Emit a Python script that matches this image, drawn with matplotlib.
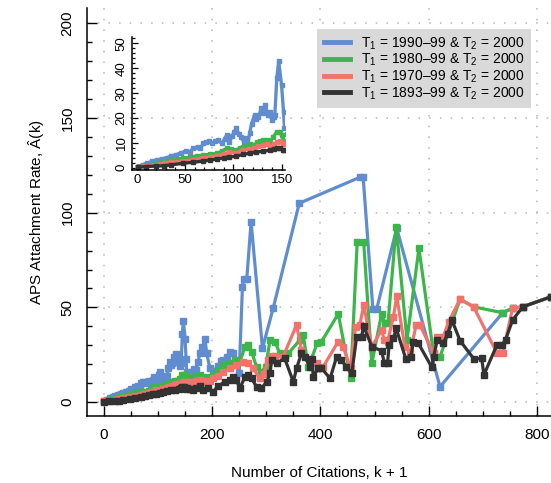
import matplotlib
matplotlib.use("Agg")
import matplotlib.pyplot as plt
from matplotlib.lines import Line2D
from matplotlib.ticker import MultipleLocator

plt.rcParams['font.family'] = ['Liberation Sans', 'DejaVu Sans']
plt.rcParams['mathtext.fontset'] = 'custom'
plt.rcParams['mathtext.rm'] = 'Liberation Sans'
plt.rcParams['mathtext.it'] = 'Liberation Sans:italic'

# ---------------- data ----------------
blue_k = [1, 6, 11, 16, 21, 26, 31, 36, 41, 46, 51, 55, 58, 63, 66, 69, 72, 75, 78, 81, 84, 88, 91, 93,
          96, 99, 101, 103, 106, 108, 111, 113, 115, 117, 119, 122, 124, 126, 129, 131, 133, 136, 138,
          140, 142, 143, 145, 147, 150, 152, 153, 159, 162, 166, 170, 174, 177, 182, 187, 190, 196, 203,
          210, 216, 220, 227, 233, 239, 245, 250, 256, 258, 264, 272, 293, 313, 361, 473, 479, 497, 504,
          541, 621, 737, 755, 774, 826]
blue_y = [0.5, 1.2, 1.9, 2.6, 3.1, 3.6, 4.0, 4.8, 5.3, 6.0, 6.8, 6.2, 7.8, 8.4, 7.9, 9.8, 10.5, 10.7, 9.8,
          10.6, 11.3, 9.8, 11.5, 13.1, 10.4, 12.8, 14.5, 15.8, 13.5, 12.2, 10.5, 11.8, 9.1, 14.0, 17.8, 21.2,
          19.5, 20.5, 23.9, 22.0, 25.2, 21.2, 22.5, 19.2, 20.5, 21.2, 35.9, 42.9, 33.2, 22.5, 16.0, 13.4, 16.0,
          17.5, 16.9, 21.0, 25.7, 29.2, 33.1, 25.7, 17.8, 16.0, 19.0, 21.5, 22.2, 23.9, 26.6, 25.7, 19.5, 15.5,
          60.6, 64.8, 64.8, 95.2, 28.4, 49.8, 105.0, 118.7, 118.7, 49.1, 49.1, 91.8, 8.1, 47.2, 49.5, 50.3, 55.6]

green_k = [1, 10, 20, 28, 36, 43, 48, 55, 62, 69, 76, 83, 88, 93, 98, 103, 107, 110, 114, 117, 121, 125,
           128, 131, 135, 138, 141, 145, 148, 150, 152, 156, 165, 172, 177, 184, 190, 196, 202, 210, 220,
           227, 233, 242, 251, 261, 267, 273, 282, 291, 299, 307, 316, 325, 334, 341, 362, 368, 378, 394,
           402, 433, 456, 468, 480, 495, 513, 519, 525, 540, 560, 582, 609, 621, 658, 683, 736, 755, 774, 826]
green_y = [0.3, 1.0, 1.8, 2.4, 3.0, 3.4, 3.8, 4.3, 4.7, 5.1, 5.4, 5.8, 6.6, 7.8, 7.4, 7.1, 8.0, 8.4, 8.8,
           9.4, 9.0, 10.2, 10.6, 11.1, 11.3, 10.4, 12.2, 14.5, 14.2, 13.1, 10.7, 13.4, 12.5, 13.8, 14.3, 13.2,
           12.5, 13.0, 14.3, 16.5, 19.5, 19.0, 20.4, 22.2, 21.3, 29.2, 30.1, 26.6, 18.6, 16.0, 18.6, 32.8, 31.9,
           25.7, 24.8, 25.7, 32.8, 35.4, 18.6, 31.0, 31.9, 46.5, 12.5, 84.4, 84.4, 20.4, 46.5, 41.9, 41.9, 92.6,
           32.8, 81.2, 25.7, 23.9, 54.3, 50.3, 47.2, 49.5, 50.3, 55.6]

red_k = [1, 10, 20, 28, 36, 48, 58, 69, 76, 83, 90, 96, 103, 110, 116, 121, 126, 131, 135, 138, 142, 145,
         148, 151, 156, 165, 172, 177, 184, 190, 196, 202, 211, 220, 233, 245, 257, 267, 276, 288, 295, 304,
         310, 316, 331, 356, 365, 381, 393, 405, 433, 442, 456, 465, 473, 480, 495, 513, 518, 524, 535, 541,
         556, 566, 577, 584, 609, 616, 627, 637, 658, 683, 726, 737, 755, 774, 826]
red_y = [0.3, 0.8, 1.3, 1.8, 2.2, 2.7, 3.3, 3.8, 4.3, 4.8, 5.5, 6.2, 6.0, 7.1, 7.4, 7.8, 8.6, 9.1, 9.4, 8.5,
         9.4, 10.2, 10.8, 9.4, 10.7, 10.7, 11.3, 11.6, 11.0, 10.7, 11.2, 12.5, 14.0, 16.0, 17.8, 19.5, 21.3,
         20.4, 17.8, 12.5, 15.0, 22.2, 24.3, 24.3, 23.9, 40.7, 27.5, 20.4, 20.4, 18.6, 31.9, 29.2, 17.8, 39.8,
         40.7, 51.2, 29.2, 38.0, 32.8, 31.9, 45.1, 56.0, 29.2, 26.6, 40.7, 40.7, 25.7, 34.5, 34.5, 42.4, 54.3,
         50.3, 26.0, 26.0, 49.5, 50.3, 55.6]

black_k = [1, 10, 20, 28, 36, 48, 58, 69, 76, 83, 90, 96, 103, 110, 117, 124, 131, 138, 142, 145, 148, 151,
           153, 159, 165, 171, 177, 184, 193, 202, 211, 224, 233, 239, 245, 251, 261, 267, 273, 282, 291, 301,
           307, 310, 319, 334, 350, 356, 365, 371, 381, 384, 387, 396, 402, 418, 430, 439, 448, 458, 467, 476,
           480, 495, 513, 518, 524, 527, 535, 540, 558, 567, 572, 581, 606, 609, 616, 627, 635, 643, 658, 684,
           698, 702, 726, 735, 742, 755, 774, 826]
black_y = [0.2, 0.5, 0.7, 0.8, 1.2, 1.8, 2.2, 2.7, 3.1, 3.5, 4.0, 4.4, 4.6, 5.4, 5.8, 6.4, 6.6, 7.1, 7.4, 8.0,
           7.8, 7.1, 7.2, 6.8, 6.3, 7.5, 8.5, 6.3, 7.2, 5.4, 8.5, 10.7, 11.6, 13.4, 11.6, 7.2, 13.4, 14.3, 12.5,
           8.1, 7.2, 10.7, 15.2, 22.2, 20.4, 23.1, 10.7, 17.8, 25.7, 23.9, 18.6, 22.6, 13.4, 17.8, 17.8, 12.5,
           23.9, 22.2, 18.6, 15.2, 34.5, 34.5, 40.1, 29.2, 27.1, 20.8, 20.4, 30.1, 33.7, 38.9, 22.6, 23.9, 31.9,
           31.0, 18.3, 23.9, 32.8, 31.0, 35.9, 43.3, 32.4, 22.6, 23.1, 14.3, 30.1, 30.1, 32.8, 43.3, 50.3, 55.6]

series_labels = [r"T$_1$ = 1990–99 & T$_2$ = 2000",
                 r"T$_1$ = 1980–99 & T$_2$ = 2000",
                 r"T$_1$ = 1970–99 & T$_2$ = 2000",
                 r"T$_1$ = 1893–99 & T$_2$ = 2000"]
colors = ['#5f8dcf', '#3cb54a', '#f2736b', '#333333']
series = [(blue_k, blue_y), (green_k, green_y), (red_k, red_y), (black_k, black_y)]

# ---------------- figure ----------------
fig = plt.figure(figsize=(5.51, 4.83), dpi=100)
ax = fig.add_axes([0.158, 0.139, 0.842, 0.844])

for (k, y), c in zip(series, colors):
    ax.plot(k, y, color=c, lw=2.3, marker='s', ms=3.8, mec=c, mfc=c, zorder=3,
            solid_joinstyle='round')

ax.set_xlim(-31, 826)
ax.set_ylim(-7.3, 208)
ax.xaxis.set_major_locator(MultipleLocator(200))
ax.xaxis.set_minor_locator(MultipleLocator(50))
ax.yaxis.set_major_locator(MultipleLocator(50))
ax.yaxis.set_minor_locator(MultipleLocator(10))
for s in ['top', 'right']:
    ax.spines[s].set_visible(False)
for s in ['left', 'bottom']:
    ax.spines[s].set_linewidth(1.1)
ax.tick_params(which='both', direction='in', width=1.0, labelsize=11)
ax.tick_params(which='major', length=7)
ax.tick_params(which='minor', length=3.5)
ax.tick_params(axis='x', pad=9)
ax.tick_params(axis='y', pad=9, labelrotation=90)
for lab in ax.get_yticklabels():
    lab.set_va('center')
ax.grid(True, which='major', color='#b5b5b5', lw=1.1, ls=(0, (1, 6)), zorder=0)

ax.set_xlabel("Number of Citations, k + 1", fontsize=11, labelpad=17)
ax.set_ylabel(r"APS Attachment Rate, $\hat{\mathrm{A}}$(k)", fontsize=11, labelpad=10)

handles = [Line2D([0], [0], color=c, lw=3.5) for c in colors]
leg = ax.legend(handles, series_labels, loc='upper right', bbox_to_anchor=(0.957, 0.949),
                borderaxespad=0, fontsize=10, frameon=True, fancybox=False,
                handlelength=1.9, labelspacing=0.02, borderpad=0.45, handletextpad=0.8)
leg.get_frame().set_facecolor('#d9d9d9')
leg.get_frame().set_edgecolor('none')
leg.get_frame().set_alpha(1)

# ---------------- inset ----------------
axi = fig.add_axes([0.239, 0.648, 0.278, 0.275])
axi.patch.set_alpha(0)
for (k, y), c in zip(series, colors):
    axi.plot(k, y, color=c, lw=2.4, marker='s', ms=3, mec=c, mfc=c, solid_joinstyle='round')
axi.set_xlim(-5.2, 153.4)
axi.set_ylim(-0.9, 52.5)
axi.xaxis.set_major_locator(MultipleLocator(50))
axi.xaxis.set_minor_locator(MultipleLocator(10))
axi.yaxis.set_major_locator(MultipleLocator(10))
axi.yaxis.set_minor_locator(MultipleLocator(2))
for s in ['top', 'right']:
    axi.spines[s].set_visible(False)
for s in ['left', 'bottom']:
    axi.spines[s].set_linewidth(1.1)
axi.tick_params(which='both', direction='in', width=0.9, labelsize=9.5)
axi.tick_params(which='major', length=4.5)
axi.tick_params(which='minor', length=2.5)
axi.tick_params(axis='x', pad=3)
axi.tick_params(axis='y', pad=3, labelrotation=90)
for lab in axi.get_yticklabels():
    lab.set_va('center')

fig.savefig("out.png", dpi=100)
